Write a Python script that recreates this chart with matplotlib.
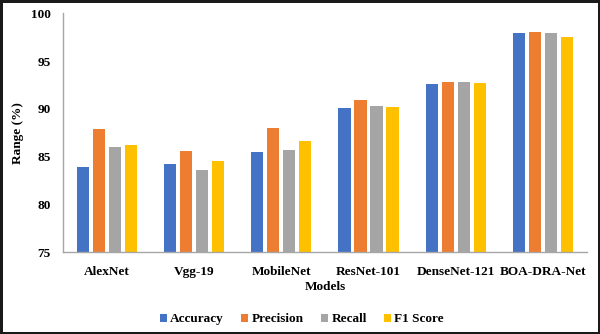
import numpy as np
import matplotlib.pyplot as plt

plt.rcParams['font.family'] = ['Liberation Serif', 'DejaVu Serif']
plt.rcParams['font.weight'] = 'bold'

models = ['AlexNet', 'Vgg-19', 'MobileNet', 'ResNet-101', 'DenseNet-121', 'BOA-DRA-Net']
accuracy = [83.9, 84.2, 85.5, 90.1, 92.6, 97.9]
precision = [87.9, 85.6, 88.0, 90.9, 92.8, 98.0]
recall = [86.0, 83.6, 85.7, 90.3, 92.85, 97.9]
f1_score = [86.2, 84.5, 86.6, 90.2, 92.75, 97.5]

series = [accuracy, precision, recall, f1_score]
labels = ['Accuracy', 'Precision', 'Recall', 'F1 Score']
colors = ['#4472C4', '#ED7D31', '#A5A5A5', '#FFC000']

fs = 9.5

fig = plt.figure(figsize=(6.0, 3.34), dpi=100)
fig.patch.set_edgecolor('#1a1a1a')
fig.patch.set_linewidth(2.5)
ax = fig.add_axes([0.105, 0.245, 0.873, 0.715])

x = np.arange(len(models))
step = 0.183
width = 0.14
for i, (vals, lab, col) in enumerate(zip(series, labels, colors)):
    ax.bar(x + (i - 1.5) * step, vals, width, color=col, label=lab, zorder=2)

ax.set_ylim(75, 100)
ax.set_xlim(-0.5, len(models) - 0.5)
ax.set_yticks([75, 80, 85, 90, 95, 100])
ax.set_xticks(x)
ax.set_xticklabels(models, fontsize=fs, fontweight='bold')
ax.tick_params(axis='y', labelsize=fs, length=0, pad=9)
ax.tick_params(axis='x', length=0, pad=10)
for t in ax.get_yticklabels():
    t.set_fontweight('bold')

for side in ['top', 'right']:
    ax.spines[side].set_visible(False)
ax.spines['left'].set_color('#a6a6a6')
ax.spines['bottom'].set_color('#a6a6a6')
ax.spines['left'].set_linewidth(1.0)
ax.spines['bottom'].set_linewidth(1.0)

ax.set_xlabel('Models', fontsize=fs, fontweight='bold', labelpad=2)
ax.set_ylabel('Range (%)', fontsize=fs, fontweight='bold', labelpad=5)

fig.legend(loc='lower center', bbox_to_anchor=(0.503, -0.01), ncol=4, frameon=False,
           prop={'size': fs, 'weight': 'bold'}, handlelength=0.55, handleheight=0.55,
           handletextpad=0.25, columnspacing=1.3)

fig.savefig('out.png', dpi=100, edgecolor=fig.get_edgecolor())
